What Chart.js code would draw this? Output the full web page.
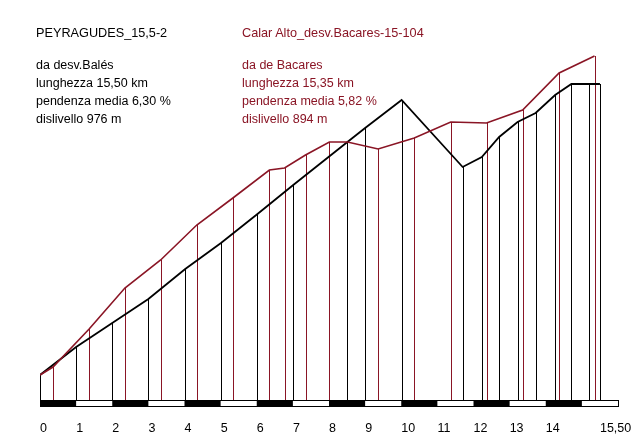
<!DOCTYPE html>
<html>
<head>
<meta charset="utf-8">
<script src="https://cdn.jsdelivr.net/npm/chart.js@4/dist/chart.umd.min.js"></script>
<style>
  html, body { margin: 0; padding: 0; background: #fff; }
  #wrap { position: relative; width: 640px; height: 448px; overflow: hidden; }
  canvas { position: absolute; left: 0; top: 0; }
  .txt { position: absolute; font-family: "Liberation Sans", Arial, sans-serif; font-size: 12.5px; line-height: 17.8px; white-space: nowrap; }
  .ttl { font-size: 12.7px; line-height: 18px; }
  .blk { color: #000; }
  .red { color: #8a1525; }
</style>
</head>
<body>
<div id="wrap">
  <canvas id="c" width="640" height="448"></canvas>
  <div class="txt ttl blk" style="left:36px; top:24px;">PEYRAGUDES_15,5-2</div>
  <div class="txt ttl red" style="left:242px; top:24px;">Calar Alto_desv.Bacares-15-104</div>
  <div class="txt blk" style="left:36px; top:57.3px;">da desv.Balés<br>lunghezza 15,50 km<br>pendenza media 6,30 %<br>dislivello 976 m</div>
  <div class="txt red" style="left:242px; top:57.3px;">da de Bacares<br>lunghezza 15,35 km<br>pendenza media 5,82 %<br>dislivello 894 m</div>
</div>
<script>
// Profile 1: PEYRAGUDES (black) – distance (km) and relative height
const blackKm  = [0, 1.0, 2.0, 3.0, 4.02, 5.01, 6.02, 7.01, 8.51, 9.0, 10.01, 11.7, 12.23, 12.71, 13.22, 13.72, 14.26, 14.71, 15.21, 15.5];
const blackAlt = [25, 53, 77, 101, 131, 157, 186, 215, 258, 272, 300, 233, 243, 263, 278, 287, 305, 316, 316, 316];

// Profile 2: Calar Alto (dark red)
const redKm  = [0, 0.36, 1.36, 2.35, 3.34, 4.34, 5.34, 6.35, 6.77, 7.35, 8.01, 8.51, 9.36, 10.36, 11.37, 12.36, 13.36, 14.37, 15.35];
const redAlt = [25, 33, 71, 112, 140, 175, 202, 230, 232, 245, 258, 258, 251, 262, 278, 277, 290, 327, 344];

// Kilometre tick labels
const tickKm = [0, 1, 2, 3, 4, 5, 6, 7, 8, 9, 10, 11, 12, 13, 14, 15.5];
const tickLabels = ["0","1","2","3","4","5","6","7","8","9","10","11","12","13","14","15,50"];
const barSegments = 16;

const BLACK = '#000000';
const RED = '#8a1525';

const toXY = (xs, ys) => xs.map((x, i) => ({x: x, y: ys[i]}));

const dropLines = {
  id: 'dropLines',
  beforeDatasetsDraw(chart) {
    const ctx = chart.ctx;
    const y0 = chart.scales.y.getPixelForValue(0);
    ctx.save();
    ctx.lineWidth = 1;
    chart.data.datasets.forEach((ds, i) => {
      const meta = chart.getDatasetMeta(i);
      ctx.strokeStyle = ds.borderColor;
      meta.data.forEach(pt => {
        const x = Math.round(pt.x) + 0.5;
        ctx.beginPath();
        ctx.moveTo(x, pt.y);
        ctx.lineTo(x, y0);
        ctx.stroke();
      });
    });
    ctx.restore();
  }
};

const kmBar = {
  id: 'kmBar',
  afterDraw(chart) {
    const ctx = chart.ctx;
    const xs = chart.scales.x;
    const y0 = Math.round(chart.scales.y.getPixelForValue(0));
    const h = 7;
    ctx.save();
    for (let k = 0; k < barSegments; k++) {
      const a = xs.getPixelForValue(k), b = xs.getPixelForValue(k + 1);
      if (k % 2 === 0) {
        ctx.fillStyle = '#000';
        ctx.fillRect(a, y0, b - a, h);
      }
    }
    ctx.strokeStyle = '#000';
    ctx.lineWidth = 1;
    const L = xs.getPixelForValue(0), R = xs.getPixelForValue(barSegments);
    ctx.strokeRect(Math.round(L) + 0.5, y0 + 0.5, Math.round(R - L), h - 1);
    ctx.restore();
  }
};

new Chart(document.getElementById('c'), {
  type: 'line',
  data: {
    datasets: [
      { label: 'Calar Alto', data: toXY(redKm, redAlt), borderColor: RED, borderWidth: 1.6, pointRadius: 0, tension: 0, fill: false },
      { label: 'Peyragudes', data: toXY(blackKm, blackAlt), borderColor: BLACK, borderWidth: 1.8, pointRadius: 0, tension: 0, fill: false }
    ]
  },
  options: {
    responsive: false,
    animation: false,
    events: [],
    layout: { padding: { left: 40, right: 22, top: 40, bottom: 9 } },
    plugins: { legend: { display: false }, tooltip: { enabled: false } },
    scales: {
      x: {
        type: 'linear', min: 0, max: barSegments,
        afterBuildTicks: (axis) => { axis.ticks = tickKm.map(v => ({value: v})); },
        ticks: {
          autoSkip: false, maxRotation: 0, align: 'start', padding: 3,
          color: '#000', font: { family: '"Liberation Sans", Arial, sans-serif', size: 12.5 },
          callback: (v) => { const i = tickKm.indexOf(v); return i >= 0 ? tickLabels[i] : ''; }
        },
        grid: { display: true, drawOnChartArea: false, drawTicks: true, tickLength: 18, color: 'rgba(0,0,0,0)' },
        border: { display: false }
      },
      y: { type: 'linear', min: 0, max: 360, display: false }
    }
  },
  plugins: [dropLines, kmBar]
});
</script>
</body>
</html>
